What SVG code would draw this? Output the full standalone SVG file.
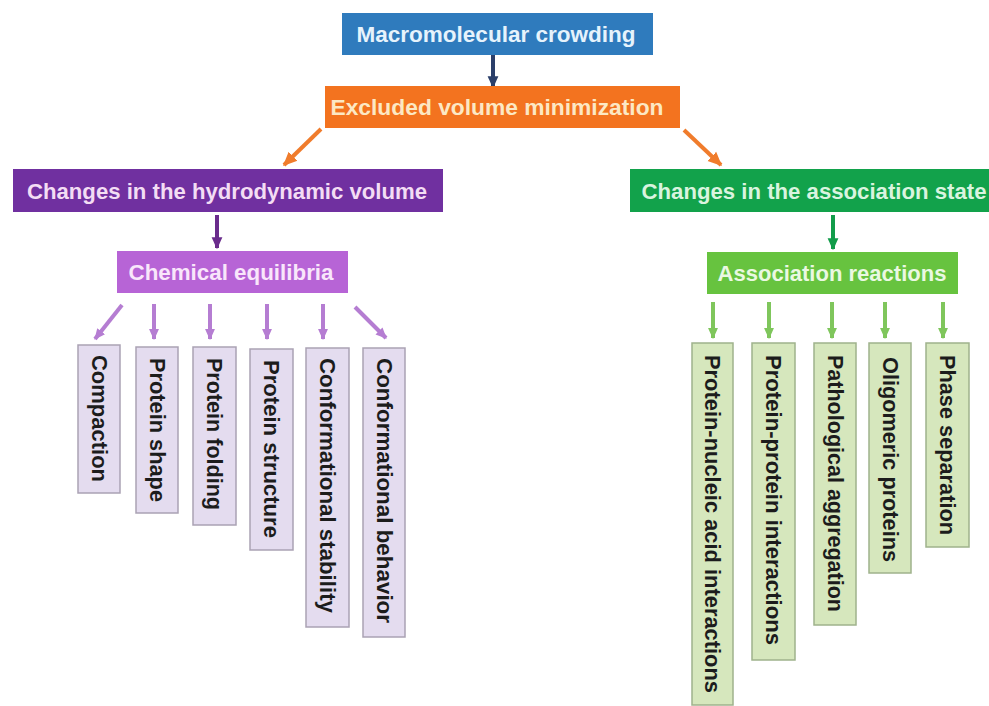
<svg xmlns="http://www.w3.org/2000/svg" width="989" height="706" viewBox="0 0 989 706">
<defs>
<style>
.hd{font-family:"Liberation Sans",Arial,sans-serif;font-weight:bold;font-size:22px;text-anchor:middle;dominant-baseline:central}
.vt{font-family:"Liberation Sans",Arial,sans-serif;font-weight:bold;font-size:22px;text-anchor:middle;dominant-baseline:central;fill:#1c1c1c}
.lav{fill:#e4dcef;stroke:#aaa2b4;stroke-width:1.5}
.lgr{fill:#d6e7bd;stroke:#9fb28c;stroke-width:1.5}
.ar{fill:none;stroke-width:4;stroke-linecap:butt}
</style>
<marker id="mNavy" markerUnits="userSpaceOnUse" markerWidth="12" markerHeight="12" viewBox="0 0 10 10" refX="9" refY="5" orient="auto"><path d="M0,0.5 L10,5 L0,9.5 z" fill="#2b3f6a"/></marker>
<marker id="mOr" markerUnits="userSpaceOnUse" markerWidth="14" markerHeight="14" viewBox="0 0 10 10" refX="9" refY="5" orient="auto"><path d="M0,0.5 L10,5 L0,9.5 z" fill="#f07c2c"/></marker>
<marker id="mDp" markerUnits="userSpaceOnUse" markerWidth="12" markerHeight="12" viewBox="0 0 10 10" refX="9" refY="5" orient="auto"><path d="M0,0.5 L10,5 L0,9.5 z" fill="#6a2c8c"/></marker>
<marker id="mDg" markerUnits="userSpaceOnUse" markerWidth="12" markerHeight="12" viewBox="0 0 10 10" refX="9" refY="5" orient="auto"><path d="M0,0.5 L10,5 L0,9.5 z" fill="#129c4a"/></marker>
<marker id="mLp" markerUnits="userSpaceOnUse" markerWidth="11" markerHeight="11" viewBox="0 0 10 10" refX="9" refY="5" orient="auto"><path d="M0,0.5 L10,5 L0,9.5 z" fill="#b57dd2"/></marker>
<marker id="mLg" markerUnits="userSpaceOnUse" markerWidth="11" markerHeight="11" viewBox="0 0 10 10" refX="9" refY="5" orient="auto"><path d="M0,0.5 L10,5 L0,9.5 z" fill="#7fc65c"/></marker>
</defs>
<rect width="989" height="706" fill="#ffffff"/>

<g id="connectors">
<line class="ar" x1="493" y1="55" x2="493" y2="87" stroke="#2b3f6a" marker-end="url(#mNavy)"/>
<line class="ar" x1="321" y1="129" x2="284" y2="165" stroke="#f07c2c" stroke-width="5" marker-end="url(#mOr)"/>
<line class="ar" x1="684" y1="130" x2="721" y2="165" stroke="#f07c2c" stroke-width="5" marker-end="url(#mOr)"/>
<line class="ar" x1="217" y1="215" x2="217" y2="248" stroke="#6a2c8c" marker-end="url(#mDp)"/>
<line class="ar" x1="833" y1="215" x2="833" y2="249" stroke="#129c4a" marker-end="url(#mDg)"/>
<line class="ar" x1="122" y1="305" x2="95" y2="339" stroke="#b57dd2" marker-end="url(#mLp)"/>
<line class="ar" x1="154" y1="304" x2="154" y2="339" stroke="#b57dd2" marker-end="url(#mLp)"/>
<line class="ar" x1="210" y1="304" x2="210" y2="339" stroke="#b57dd2" marker-end="url(#mLp)"/>
<line class="ar" x1="267" y1="304" x2="267" y2="339" stroke="#b57dd2" marker-end="url(#mLp)"/>
<line class="ar" x1="323" y1="304" x2="323" y2="339" stroke="#b57dd2" marker-end="url(#mLp)"/>
<line class="ar" x1="355" y1="307" x2="386" y2="338" stroke="#b57dd2" marker-end="url(#mLp)"/>
<line class="ar" x1="713" y1="302" x2="713" y2="338" stroke="#7fc65c" marker-end="url(#mLg)"/>
<line class="ar" x1="769" y1="302" x2="769" y2="338" stroke="#7fc65c" marker-end="url(#mLg)"/>
<line class="ar" x1="832" y1="302" x2="832" y2="338" stroke="#7fc65c" marker-end="url(#mLg)"/>
<line class="ar" x1="885" y1="302" x2="885" y2="338" stroke="#7fc65c" marker-end="url(#mLg)"/>
<line class="ar" x1="943" y1="302" x2="943" y2="338" stroke="#7fc65c" marker-end="url(#mLg)"/>
</g>

<g id="macromolecular-crowding">
<rect x="342" y="13" width="311" height="42" fill="#2f7bbd"/>
<text class="hd" x="496" y="34" fill="#e6f3fc" textLength="279" lengthAdjust="spacingAndGlyphs">Macromolecular crowding</text>
</g>
<g id="excluded-volume">
<rect x="325" y="86" width="355" height="42" fill="#f3731f"/>
<text class="hd" x="497" y="107" fill="#fce8c4" textLength="333" lengthAdjust="spacingAndGlyphs">Excluded volume minimization</text>
</g>
<g id="hydrodynamic-volume">
<rect x="13" y="169" width="430" height="43" fill="#7030a0"/>
<text class="hd" x="227" y="191" fill="#f3ddf4" textLength="400" lengthAdjust="spacingAndGlyphs">Changes in the hydrodynamic volume</text>
</g>
<g id="chemical-equilibria">
<rect x="117" y="251" width="231" height="42" fill="#b764d6"/>
<text class="hd" x="231" y="272" fill="#f9e6fb" textLength="205" lengthAdjust="spacingAndGlyphs">Chemical equilibria</text>
</g>
<g id="association-state">
<rect x="630" y="169" width="359" height="43" fill="#12a24b"/>
<text class="hd" x="814" y="191" fill="#d9f4df" textLength="345" lengthAdjust="spacingAndGlyphs">Changes in the association state</text>
</g>
<g id="association-reactions">
<rect x="707" y="252" width="251" height="42" fill="#67c33f"/>
<text class="hd" x="832" y="273" fill="#eaf8e2" textLength="229" lengthAdjust="spacingAndGlyphs">Association reactions</text>
</g>

<g id="compaction">
<rect class="lav" x="78" y="345" width="42" height="148"/>
<text class="vt" transform="translate(99,418.5) rotate(90)" textLength="127" lengthAdjust="spacingAndGlyphs">Compaction</text>
</g>
<g id="protein-shape">
<rect class="lav" x="136" y="347" width="42" height="166"/>
<text class="vt" transform="translate(157,430) rotate(90)" textLength="144" lengthAdjust="spacingAndGlyphs">Protein shape</text>
</g>
<g id="protein-folding">
<rect class="lav" x="193" y="347" width="43" height="178"/>
<text class="vt" transform="translate(214.5,434) rotate(90)" textLength="152" lengthAdjust="spacingAndGlyphs">Protein folding</text>
</g>
<g id="protein-structure">
<rect class="lav" x="250" y="349" width="43" height="201"/>
<text class="vt" transform="translate(271.5,449) rotate(90)" textLength="178" lengthAdjust="spacingAndGlyphs">Protein structure</text>
</g>
<g id="conformational-stability">
<rect class="lav" x="306" y="348" width="43" height="279"/>
<text class="vt" transform="translate(327.5,485.5) rotate(90)" textLength="255" lengthAdjust="spacingAndGlyphs">Conformational stability</text>
</g>
<g id="conformational-behavior">
<rect class="lav" x="363" y="348" width="42" height="289"/>
<text class="vt" transform="translate(384,490.5) rotate(90)" textLength="265" lengthAdjust="spacingAndGlyphs">Conformational behavior</text>
</g>

<g id="protein-nucleic">
<rect class="lgr" x="692" y="343" width="41" height="362"/>
<text class="vt" transform="translate(712.5,524) rotate(90)" textLength="338" lengthAdjust="spacingAndGlyphs">Protein-nucleic acid interactions</text>
</g>
<g id="protein-protein">
<rect class="lgr" x="752" y="343" width="43" height="317"/>
<text class="vt" transform="translate(773.5,500) rotate(90)" textLength="290" lengthAdjust="spacingAndGlyphs">Protein-protein interactions</text>
</g>
<g id="pathological-aggregation">
<rect class="lgr" x="814" y="343" width="42" height="282"/>
<text class="vt" transform="translate(835,483.5) rotate(90)" textLength="257" lengthAdjust="spacingAndGlyphs">Pathological aggregation</text>
</g>
<g id="oligomeric-proteins">
<rect class="lgr" x="869" y="343" width="42" height="230"/>
<text class="vt" transform="translate(890,459.5) rotate(90)" textLength="205" lengthAdjust="spacingAndGlyphs">Oligomeric proteins</text>
</g>
<g id="phase-separation">
<rect class="lgr" x="926" y="343" width="43" height="204"/>
<text class="vt" transform="translate(947.5,445) rotate(90)" textLength="180" lengthAdjust="spacingAndGlyphs">Phase separation</text>
</g>
</svg>
